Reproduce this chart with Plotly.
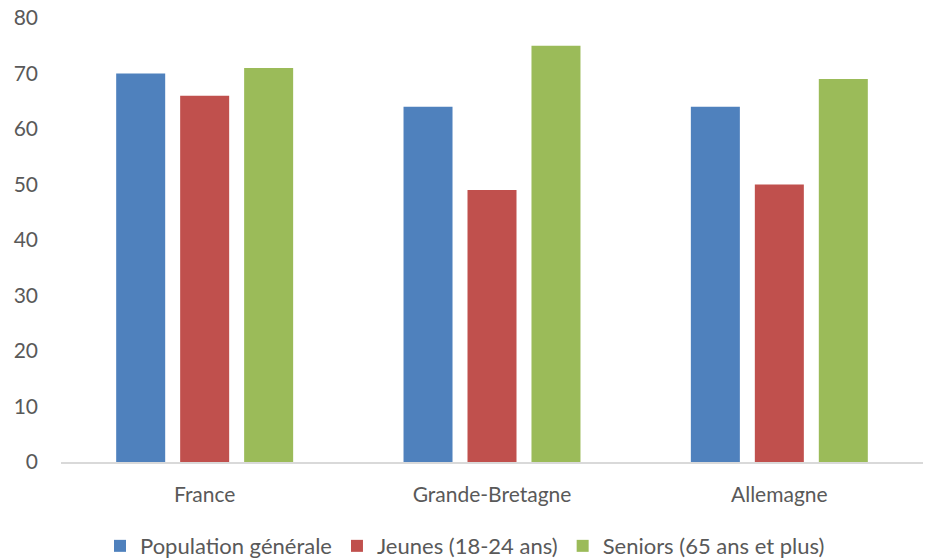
import plotly.graph_objects as go

categories = ["France", "Grande-Bretagne", "Allemagne"]
pop_generale = [70, 64, 64]
jeunes = [66, 49, 50]
seniors = [71, 75, 69]
series_names = ["Population générale", "Jeunes (18-24 ans)", "Seniors (65 ans et plus)"]
colors = ["#4F81BD", "#C0504D", "#9BBB59"]
y_ticks = [0, 10, 20, 30, 40, 50, 60, 70, 80]

fig = go.Figure()
for name, vals, col in zip(series_names, [pop_generale, jeunes, seniors], colors):
    fig.add_trace(go.Bar(x=categories, y=vals, name=name, marker_color=col,
                         marker_line_width=0))

font_family = "Lato, 'Open Sans', sans-serif"
fig.update_layout(
    width=930, height=559,
    margin=dict(l=61, r=7, t=18, b=97, autoexpand=False),
    paper_bgcolor="white", plot_bgcolor="white",
    barmode="group", bargap=0.332, bargroupgap=0.234,
    font=dict(family=font_family, size=21, color="#595959"),
    showlegend=True,
    legend=dict(orientation="h", x=0.5, xanchor="center", xref="container",
                y=-0.142, yanchor="top", yref="paper",
                font=dict(size=22, color="#595959"), itemsizing="constant",
                traceorder="normal", itemwidth=30),
    xaxis=dict(showline=True, linecolor="#D9D9D9", linewidth=1.5, showgrid=False,
               ticks="", ticklabelstandoff=13, tickfont=dict(size=21, color="#595959")),
    yaxis=dict(range=[0, 80], tickvals=y_ticks, showgrid=False, zeroline=False,
               showline=False, ticks="", ticklabelstandoff=22,
               tickfont=dict(size=21, color="#595959")),
)

fig.write_html("out.html")
